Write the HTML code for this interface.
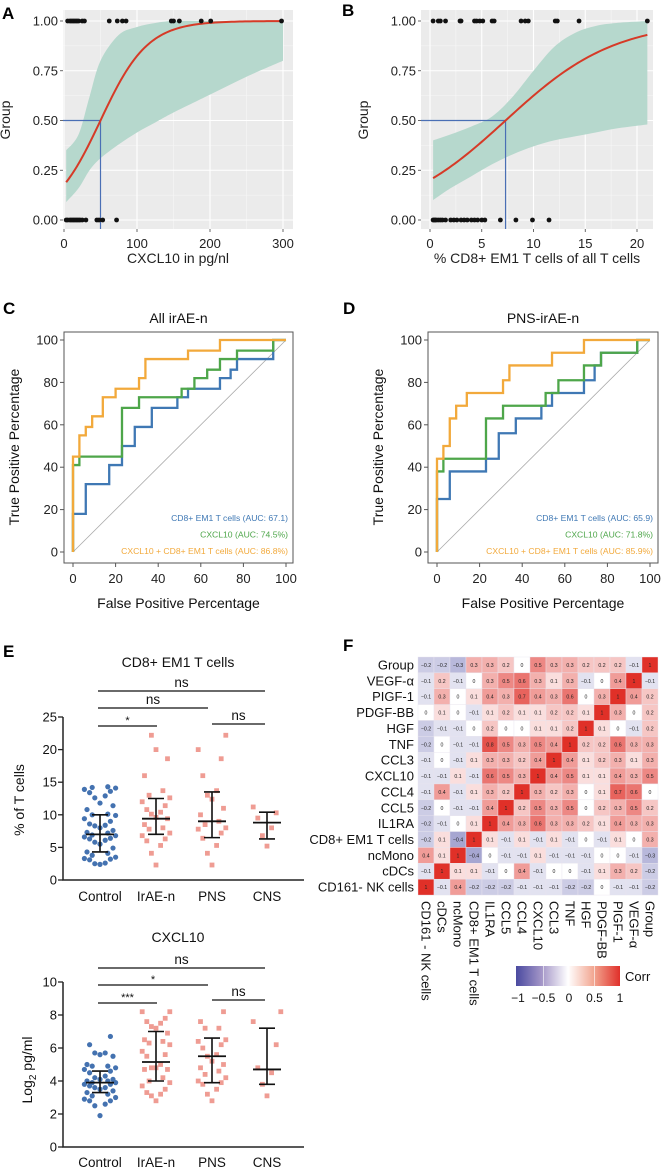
<!DOCTYPE html>
<html><head><meta charset="utf-8"><style>
html,body{margin:0;padding:0;background:#fff;}
svg{display:block;font-family:"Liberation Sans",Arial,sans-serif;}
</style></head><body>
<svg id="fig" width="661" height="1171" viewBox="0 0 661 1171" xmlns="http://www.w3.org/2000/svg">
<rect width="661" height="1171" fill="#fff"/>
</svg>
<script>
// ---------- DATA ----------
// Panel A
const aTopX = [5,8,10,12,14,16,18,20,25,28,62,73,80,85,147,150,158,188,201,298];
const aBotX = [3,5,8,10,12,14,16,18,20,22,25,30,45,48,53,72];
const aBandX = [3,20,35,50,75,100,125,150,200,250,300];
const aBandUp = [0.35,0.43,0.62,0.80,0.93,0.97,0.99,1.0,1.0,1.0,1.0];
const aBandLo = [0.09,0.16,0.25,0.31,0.38,0.44,0.49,0.54,0.63,0.72,0.80];
const aCoef = [-1.545,0.0309];
const aThresh = 50;
const aXTicks = [0,100,200,300];
// Panel B
const bTopX = [0.3,0.8,1.0,1.5,2.9,3.0,4.3,4.5,4.8,5.1,6.0,6.2,8.8,9.2,9.5,12.1,12.3,14.4,21];
const bBotX = [0.3,0.4,0.5,0.6,0.8,1,1.2,1.5,2,2.3,2.6,3,3.3,3.6,4,4.3,4.6,5,5.3,6.8,8.3,9.9,11.5];
const bBandX = [0.3,2,4,6,8,10,12,14,16,18,21];
const bBandUp = [0.40,0.43,0.47,0.52,0.62,0.75,0.87,0.94,0.975,0.99,1.0];
const bBandLo = [0.10,0.16,0.22,0.28,0.33,0.37,0.40,0.42,0.44,0.46,0.48];
const bCoef = [-1.38,0.189];
const bThresh = 7.3;
const bXTicks = [0,5,10,15,20];
const yTicksLogit = [0,0.25,0.5,0.75,1];
// Panel C ROC
const cOrangeF=[0,0,3,3,6,6,9,9,14,14,20,20,31,31,34,34,54,54,69,69,100];
const cOrangeT=[0,45,45,55,55,59,59,64,64,73,73,77,77,82,82,91,91,95,95,100,100];
const cGreenF=[0,0,3,3,23,23,31,31,51,51,57,57,63,63,69,69,77,77,94,94,100];
const cGreenT=[0,41,41,45,45,68,68,73,73,77,77,82,82,86,86,91,91,95,95,100,100];
const cBlueF=[0,0,6,6,17,17,23,23,29,29,37,37,49,49,54,54,69,69,74,74,77,77,94,94,100];
const cBlueT=[0,18,18,32,32,41,41,50,50,59,59,68,68,73,73,77,77,82,82,86,86,91,91,100,100];
const cLegend=["CD8+ EM1 T cells (AUC: 67.1)","CXCL10 (AUC: 74.5%)","CXCL10 + CD8+ EM1 T cells (AUC: 86.8%)"];
// Panel D ROC
const dOrangeF=[0,0,3,3,6,6,9,9,14,14,31,31,34,34,54,54,69,69,100];
const dOrangeT=[0,44,44,50,50,63,63,69,69,75,75,81,81,88,88,94,94,100,100];
const dGreenF=[0,0,3,3,23,23,31,31,51,51,57,57,69,69,77,77,94,94,100];
const dGreenT=[0,38,38,44,44,63,63,69,69,75,75,81,81,88,88,94,94,100,100];
const dBlueF=[0,0,6,6,23,23,29,29,37,37,49,49,54,54,69,69,74,74,77,77,94,94,100];
const dBlueT=[0,25,25,38,38,44,44,56,56,63,63,69,69,75,75,81,81,88,88,94,94,100,100];
const dLegend=["CD8+ EM1 T cells (AUC: 65.9)","CXCL10 (AUC: 71.8%)","CXCL10 + CD8+ EM1 T cells (AUC: 85.9%)"];
const rocTicks=[0,20,40,60,80,100];
// Panel E
const groups=["Control","IrAE-n","PNS","CNS"];
const e1Control=[14.2,14.1,13.9,13.6,13.4,14.3,12.9,12.6,11.8,11.4,10.8,10.1,10,9.9,9.4,9,8.6,8.4,8.3,8,7.6,7.3,7.2,6.9,6.8,6.6,6.4,6.3,6.1,5.8,5.5,4.9,4.3,4.1,3.8,3.5,3.3,3.2,3.1,2.6,2.5,2.4];
const e1Irae=[22.2,20,18.6,16,13.7,13,12.6,12,11.4,10.8,10.4,10.1,9.6,9.4,8.5,8,7.8,7.2,6.8,6.3,6,5.3,4.1,2.3];
const e1Pns=[22.2,20,18.6,16,13.7,13,12.4,11,10,9,8.5,8,7.8,7.2,6.4,5.3,4.1,2.3];
const e1Cns=[11.2,10.3,9.5,8,6.8,5.2];
const e1Mid=[7,9.4,9,8.8];
const e1Lo=[4.3,7,6.5,6.3];
const e1Hi=[10,12.5,13.5,10.4];
const e1Ticks=[0,5,10,15,20,25];
const e2Control=[6.7,6.2,5.7,5.7,5.6,5.5,5.0,4.9,4.9,4.8,4.7,4.6,4.5,4.3,4.2,4.1,4.1,4.0,4.0,3.9,3.9,3.8,3.8,3.7,3.6,3.6,3.5,3.4,3.3,3.2,3.1,3.0,2.9,2.8,2.8,2.6,2.5,1.9];
const e2Irae=[8.2,8.2,7.8,7.6,7.5,7.3,7.2,6.9,6.5,6.4,6.3,6.2,5.8,5.6,5.5,5.0,4.8,4.8,4.7,4.7,4.2,4.0,3.9,3.7,3.5,3.3,3.2,3.1,2.8];
const e2Pns=[8.2,7.6,7.2,7.2,6.5,6.4,6.2,6.0,5.6,5.5,5.2,5.0,4.8,4.6,4.4,4.2,4.0,3.9,3.8,3.5,3.2,2.8];
const e2Cns=[8.2,7.6,6.2,4.8,4.5,3.8,3.1];
const e2Mid=[3.9,5.15,5.5,4.7];
const e2Lo=[3.3,4,3.9,3.8];
const e2Hi=[4.6,7,6.6,7.2];
const e2Ticks=[0,2,4,6,8,10];
// Panel F heatmap
const rowNames=["Group","VEGF-α","PIGF-1","PDGF-BB","HGF","TNF","CCL3","CXCL10","CCL4","CCL5","IL1RA","CD8+ EM1 T cells","ncMono","cDCs","CD161- NK cells"];
const colNames=["CD161 - NK cells","cDCs","ncMono","CD8+ EM1 T cells","IL1RA","CCL5","CCL4","CXCL10","CCL3","TNF","HGF","PDGF-BB","PIGF-1","VEGF-α","Group"];
const corr=[
[-0.2,-0.2,-0.3,0.3,0.3,0.2,0,0.5,0.3,0.3,0.2,0.2,0.2,-0.1,1],
[-0.1,0.2,-0.1,0,0.3,0.5,0.6,0.3,0.1,0.3,-0.1,0,0.4,1,-0.1],
[-0.1,0.3,0,0.1,0.4,0.3,0.7,0.4,0.3,0.6,0,0.3,1,0.4,0.2],
[0,0.1,0,-0.1,0.1,0.2,0.1,0.1,0.2,0.2,0.1,1,0.3,0,0.2],
[-0.2,-0.1,-0.1,0,0.2,0,0,0.1,0.1,0.2,1,0.1,0,-0.1,0.2],
[-0.2,0,-0.1,-0.1,0.8,0.5,0.3,0.5,0.4,1,0.2,0.2,0.6,0.3,0.3],
[-0.1,0,-0.1,0.1,0.3,0.3,0.2,0.4,1,0.4,0.1,0.2,0.3,0.1,0.3],
[-0.1,-0.1,0.1,-0.1,0.6,0.5,0.3,1,0.4,0.5,0.1,0.1,0.4,0.3,0.5],
[-0.1,0.4,-0.1,0.1,0.3,0.2,1,0.3,0.2,0.3,0,0.1,0.7,0.6,0],
[-0.2,0,-0.1,-0.1,0.4,1,0.2,0.5,0.3,0.5,0,0.2,0.3,0.5,0.2],
[-0.2,-0.1,0,0.1,1,0.4,0.3,0.6,0.3,0.3,0.2,0.1,0.4,0.3,0.3],
[-0.2,0.1,-0.4,1,0.1,-0.1,0.1,-0.1,0.1,-0.1,0,-0.1,0.1,0,0.3],
[0.4,0.1,1,-0.4,0,-0.1,-0.1,0.1,-0.1,-0.1,-0.1,0,0,-0.1,-0.3],
[-0.1,1,0.1,0.1,-0.1,0,0.4,-0.1,0,0,-0.1,0.1,0.3,0.2,-0.2],
[1,-0.1,0.4,-0.2,-0.2,-0.2,-0.1,-0.1,-0.1,-0.2,-0.2,0,-0.1,-0.1,-0.2]];
const cbTicks=[-1,-0.5,0,0.5,1];

// ---------- HELPERS ----------
const NS="http://www.w3.org/2000/svg";
const svg=document.getElementById('fig');
function mk(tag,attrs,parent){const e=document.createElementNS(NS,tag);for(const k in attrs)e.setAttribute(k,attrs[k]);(parent||svg).appendChild(e);return e;}
function txt(s,attrs,parent){const e=mk('text',attrs,parent);e.textContent=s;return e;}
function lin(a,b,c,d){return v=>c+(v-a)*(d-c)/(b-a);}
function smooth(p){ // catmull-rom through pixel points, returns path segment (without initial M)
  let d='';
  for(let i=0;i<p.length-1;i++){
    const p0=p[Math.max(0,i-1)],p1=p[i],p2=p[i+1],p3=p[Math.min(p.length-1,i+2)];
    const c1=[p1[0]+(p2[0]-p0[0])/6,p1[1]+(p2[1]-p0[1])/6];
    const c2=[p2[0]-(p3[0]-p1[0])/6,p2[1]-(p3[1]-p1[1])/6];
    d+='C'+c1.join(',')+' '+c2.join(',')+' '+p2.join(',');
  }
  return d;
}

// ---------- PANEL LETTERS ----------
[["A",2,19],["B",342,16],["C",3,314],["D",343,314],["E",3,657],["F",343,651]].forEach(L=>{
  const t=txt(L[0],{x:L[1],y:L[2],'font-size':17,'font-weight':'bold',fill:'#000'});
  
  
});

// ---------- LOGIT PANELS ----------
function logitPanel(id,box,xd,xr,xticks,minor,band,coef,topX,botX,thr,xtitle){
  const g=mk('g',{});
  
  
  const X=lin(xd[0],xd[1],xr[0],xr[1]);
  const Y=lin(0,1,220,21);
  const bg=mk('rect',{x:box[0],y:box[1],width:box[2]-box[0],height:box[3]-box[1],fill:'#ebebeb'},g);
  
  
  minor.forEach(v=>{const l=mk('line',{x1:X(v),x2:X(v),y1:box[1],y2:box[3],stroke:'#f7f7f7','stroke-width':0.6},g);});
  [0.125,0.375,0.625,0.875].forEach(v=>{const l=mk('line',{x1:box[0],x2:box[2],y1:Y(v),y2:Y(v),stroke:'#f7f7f7','stroke-width':0.6},g);});
  xticks.forEach(v=>{
    const l=mk('line',{x1:X(v),x2:X(v),y1:box[1],y2:box[3],stroke:'#fff','stroke-width':1.1},g);
    
    
    const tk=mk('line',{x1:X(v),x2:X(v),y1:box[3],y2:box[3]+3,stroke:'#444','stroke-width':0.8},g);
    
    
    const t=txt(String(v),{x:X(v),y:248,'font-size':13,'text-anchor':'middle',fill:'#222'},g);
    
    
  });
  yTicksLogit.forEach(v=>{
    const l=mk('line',{x1:box[0],x2:box[2],y1:Y(v),y2:Y(v),stroke:'#fff','stroke-width':1.1},g);
    
    
    const tk=mk('line',{x1:box[0]-3,x2:box[0],y1:Y(v),y2:Y(v),stroke:'#444','stroke-width':0.8},g);
    
    
    const t=txt(v.toFixed(2),{x:box[0]-5,y:Y(v)+4.5,'font-size':13,'text-anchor':'end',fill:'#222'},g);
    
    
  });
  const up=band[0].map((x,i)=>[X(x),Y(band[1][i])]);
  const lo=band[0].map((x,i)=>[X(x),Y(band[2][i])]).reverse();
  const d='M'+up[0].join(',')+smooth(up)+'L'+lo[0].join(',')+smooth(lo)+'Z';
  const bp=mk('path',{d:d,fill:'#b6d8cd'},g);
  
  
  const pts=[];const x0=band[0][0],x1=band[0][band[0].length-1];
  for(let i=0;i<=80;i++){const x=x0+(x1-x0)*i/80;const p=1/(1+Math.exp(-(coef[0]+coef[1]*x)));pts.push(X(x)+','+Y(p));}
  const bl1=mk('line',{x1:box[0],x2:X(thr),y1:Y(0.5),y2:Y(0.5),stroke:'#4a6fb5','stroke-width':1.2},g);
  
  
  const bl2=mk('line',{x1:X(thr),x2:X(thr),y1:Y(0.5),y2:box[3],stroke:'#4a6fb5','stroke-width':1.2},g);
  
  
  const cv=mk('polyline',{points:pts.join(' '),fill:'none',stroke:'#d63a27','stroke-width':2},g);
  
  
  topX.forEach(x=>{const c=mk('circle',{cx:X(x),cy:Y(1),r:2.4,fill:'#111'},g);});
  botX.forEach(x=>{const c=mk('circle',{cx:X(x),cy:Y(0),r:2.4,fill:'#111'},g);});
  const xt=txt(xtitle,{x:(box[0]+box[2])/2,y:263,'font-size':14,'text-anchor':'middle',fill:'#222'},g);
  
  
  const yx=box[0]-53;
  const yt=txt('Group',{x:yx,y:120,'font-size':14,'text-anchor':'middle',fill:'#222',transform:'rotate(-90 '+yx+' 120)'},g);
  
  
}
logitPanel('a',[63,10,293,229],[0,300],[64,283],aXTicks,[50,150,250],[aBandX,aBandUp,aBandLo],aCoef,aTopX,aBotX,aThresh,'CXCL10 in pg/nl');
logitPanel('b',[421,10,653,229],[0,20],[430,637],bXTicks,[2.5,7.5,12.5,17.5],[bBandX,bBandUp,bBandLo],bCoef,bTopX,bBotX,bThresh,'% CD8+ EM1 T cells of all T cells');

// ---------- ROC PANELS ----------
function rocPanel(id,box,xr,title,series,legend){
  const g=mk('g',{});
  
  
  const X=lin(0,100,xr[0],xr[1]);const Y=lin(0,100,552,340);
  const fr=mk('rect',{x:box[0],y:box[1],width:box[2]-box[0],height:box[3]-box[1],fill:'none',stroke:'#555','stroke-width':1},g);
  
  
  const dg=mk('line',{x1:X(0),y1:Y(0),x2:X(100),y2:Y(100),stroke:'#aaa','stroke-width':0.8},g);
  
  
  rocTicks.forEach(v=>{
    const a=mk('line',{x1:X(v),x2:X(v),y1:box[3],y2:box[3]+4,stroke:'#555'},g);
    
    
    const t=txt(String(v),{x:X(v),y:583,'font-size':13,'text-anchor':'middle',fill:'#222'},g);
    
    
    const b=mk('line',{x1:box[0]-4,x2:box[0],y1:Y(v),y2:Y(v),stroke:'#555'},g);
    
    
    const u=txt(String(v),{x:box[0]-6,y:Y(v)+4.5,'font-size':13,'text-anchor':'end',fill:'#222'},g);
    
    
  });
  series.forEach(s=>{
    const p=mk('polyline',{points:s[0].map((f,i)=>X(f)+','+Y(s[1][i])).join(' '),fill:'none',stroke:s[2],'stroke-width':2.3},g);
    
    
  });
  const cols=['#3f78b4','#4ea64a','#f2a93b'];
  legend.forEach((s,i)=>{
    const t=txt(s,{x:box[2]-5,y:521+i*16.5,'font-size':8.6,'text-anchor':'end',fill:cols[i]},g);
    
    
  });
  const tt=txt(title,{x:(box[0]+box[2])/2,y:323,'font-size':14,'text-anchor':'middle',fill:'#111'},g);
  
  
  const xt=txt('False Positive Percentage',{x:(box[0]+box[2])/2,y:608,'font-size':14,'text-anchor':'middle',fill:'#111'},g);
  
  
  const yx=box[0]-45;
  const yt=txt('True Positive Percentage',{x:yx,y:447,'font-size':14,'text-anchor':'middle',fill:'#111',transform:'rotate(-90 '+yx+' 447)'},g);
  
  
}
rocPanel('c',[64,332,293,563],[73,286],'All irAE-n',[[cBlueF,cBlueT,'#3f78b4','cd8'],[cGreenF,cGreenT,'#4ea64a','cxcl10'],[cOrangeF,cOrangeT,'#f2a93b','combined']],cLegend);
rocPanel('d',[428,332,658,563],[437,650],'PNS-irAE-n',[[dBlueF,dBlueT,'#3f78b4','cd8'],[dGreenF,dGreenT,'#4ea64a','cxcl10'],[dOrangeF,dOrangeT,'#f2a93b','combined']],dLegend);

// ---------- DOT PLOTS ----------
const gx=[100,156,212,267];
function jitter(vals,spread){ // deterministic swarm offsets (layout only)
  const sorted=vals.map((v,i)=>[v,i]).sort((a,b)=>a[0]-b[0]);const off=new Array(vals.length).fill(0);
  const pattern=[0,-1,1,-2,2,-3,3,-1.5,1.5,-2.5,2.5];
  sorted.forEach((s,k)=>{off[s[1]]=pattern[k%pattern.length]*spread;});return off;
}
function dotPanel(id,Y,yTicks,yTop,ybase,title,ytitle,sets,mid,lo,hi,sig){
  const g=mk('g',{});
  
  
  const ax=mk('path',{d:'M63,'+Y(yTicks[yTicks.length-1])+'V'+Y(0)+'H304',fill:'none',stroke:'#222','stroke-width':1.5},g);
  
  
  yTicks.forEach(v=>{
    const t=mk('line',{x1:58,x2:63,y1:Y(v),y2:Y(v),stroke:'#222','stroke-width':1.3},g);
    
    
    const l=txt(String(v),{x:57,y:Y(v)+4.5,'font-size':13,'text-anchor':'end',fill:'#111'},g);
    
    
  });
  groups.forEach((n,i)=>{
    const t=txt(n,{x:gx[i],y:ybase,'font-size':13.5,'text-anchor':'middle',fill:'#111'},g);
    
    
  });
  sets.forEach((vals,i)=>{
    const off=jitter(vals,i==0?5.2:4.6);
    vals.forEach((v,k)=>{
      let e;
      if(i==0){e=mk('circle',{cx:gx[i]+off[k],cy:Y(v),r:2.6,fill:'#4472b0'},g);}
      else{e=mk('rect',{x:gx[i]+off[k]-2.4,y:Y(v)-2.4,width:4.8,height:4.8,fill:'#ef9c93'},g);}
      
      
    });
    const m=mk('line',{x1:gx[i]-14,x2:gx[i]+14,y1:Y(mid[i]),y2:Y(mid[i]),stroke:'#111','stroke-width':1.8},g);
    
    
    const w=mk('path',{d:'M'+(gx[i]-8)+','+Y(hi[i])+'H'+(gx[i]+8)+'M'+gx[i]+','+Y(hi[i])+'V'+Y(lo[i])+'M'+(gx[i]-8)+','+Y(lo[i])+'H'+(gx[i]+8),fill:'none',stroke:'#111','stroke-width':1.6},g);
    
    
  });
  sig.forEach(s=>{
    const l=mk('line',{x1:s[0],x2:s[1],y1:s[2],y2:s[2],stroke:'#111','stroke-width':1.3},g);
    
    
    const t=txt(s[3],{x:(s[0]+s[1])/2,y:s[2]-(s[3]=='ns'?4:2),'font-size':s[3]=='ns'?13.5:11,'text-anchor':'middle',fill:'#111'},g);
    
    
  });
  const tt=txt(title,{x:178,y:yTop,'font-size':14,'text-anchor':'middle',fill:'#111'},g);
  
  
  return g;
}
const Y1=lin(0,25,880,717);
dotPanel('e-cd8',Y1,e1Ticks,667,901,'CD8+ EM1 T cells','% of T cells',[e1Control,e1Irae,e1Pns,e1Cns],e1Mid,e1Lo,e1Hi,
  [[98,265,691,'ns'],[98,208,708,'ns'],[98,157,726,'*'],[212,265,724,'ns']]);
const yt1=txt('% of T cells',{x:24,y:800,'font-size':14,'text-anchor':'middle',fill:'#111',transform:'rotate(-90 24 800)'});


const Y2=lin(0,10,1147,982);
dotPanel('e-cxcl10',Y2,e2Ticks,942,1167,'CXCL10','',[e2Control,e2Irae,e2Pns,e2Cns],e2Mid,e2Lo,e2Hi,
  [[98,265,968,'ns'],[98,208,985,'*'],[98,157,1003,'***'],[212,265,1000,'ns']]);
const yt2=mk('text',{x:32,y:1070,'font-size':14,'text-anchor':'middle',fill:'#111',transform:'rotate(-90 32 1070)'});
yt2.innerHTML='Log<tspan font-size="10" dy="4">2</tspan><tspan dy="-4"> pg/ml</tspan>';



// ---------- HEATMAP ----------
const hx0=418,hy0=657,cw=16,ch=15.87;
function corrColor(v){
  const a=Math.pow(Math.abs(v),0.8);
  const t=v>=0?[224,48,40]:[70,70,160];
  const c=t.map(k=>Math.round(255+(k-255)*a));
  return 'rgb('+c.join(',')+')';
}
const hg=mk('g',{});


corr.forEach((row,r)=>{
  row.forEach((v,c)=>{
    const rc=mk('rect',{x:hx0+c*cw,y:hy0+r*ch,width:cw,height:ch,fill:corrColor(v),stroke:'#e8e4ee','stroke-width':0.4},hg);
    
    
    const t=txt(v==0?'0':String(v).replace('-','−'),{x:hx0+c*cw+cw/2,y:hy0+r*ch+ch/2+2,'font-size':5.2,'text-anchor':'middle',fill:'#222'},hg);
    
    
  });
});
rowNames.forEach((n,r)=>{
  const t=txt(n,{x:hx0-4,y:hy0+r*ch+ch/2+4.5,'font-size':13,'text-anchor':'end',fill:'#111'},hg);
  
  
});
colNames.forEach((n,c)=>{
  const x=hx0+c*cw+cw/2-4.5, y=901;
  const t=txt(n,{x:x,y:y,'font-size':13,fill:'#111',transform:'rotate(90 '+x+' '+y+')'},hg);
  
  
});
// colorbar
const defs=mk('defs',{});
const grad=mk('linearGradient',{id:'cb',x1:0,x2:1,y1:0,y2:0},defs);
[[0,'#4a4aa0'],[0.25,'#a597c8'],[0.5,'#ffffff'],[0.75,'#f2a590'],[1,'#e0302a']].forEach(s=>mk('stop',{offset:s[0],'stop-color':s[1]},grad));
const CB=lin(-1,1,518,620);
const cb=mk('rect',{x:516,y:966,width:104,height:20,fill:'url(#cb)'});


cbTicks.forEach(v=>{
  if(v>-1&&v<1){const l=mk('line',{x1:CB(v),x2:CB(v),y1:966,y2:986,stroke:'#fff','stroke-width':0.6});}
  const t=txt(String(v).replace('-','−'),{x:CB(v),y:1002,'font-size':12,'text-anchor':'middle',fill:'#111'});
  
  
});
const cbt=txt('Corr',{x:625,y:981,'font-size':13,fill:'#111'});


</script>
</body></html>
